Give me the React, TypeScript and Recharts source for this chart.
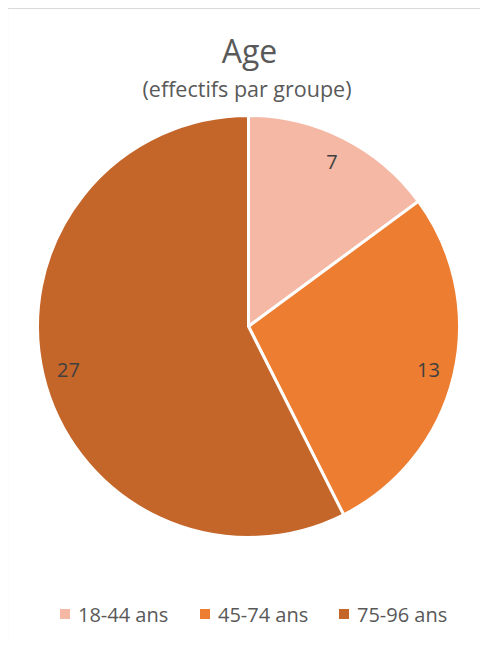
import React from "react";
import { PieChart, Pie, Cell } from "recharts";

const categories = ["18-44 ans", "45-74 ans", "75-96 ans"];
const counts = [7, 13, 27];
const colors = ["#F4B8A4", "#ED7D31", "#C4652A"];

const title = "Age";
const subtitle = "(effectifs par groupe)";

const data = categories.map((name, i) => ({ name, value: counts[i] }));

const FONT = "'Open Sans', sans-serif";
const RADIAN = Math.PI / 180;

const renderLabel = (props: any) => {
  const { cx, cy, midAngle, outerRadius, value } = props;
  const r = outerRadius * 0.877;
  const x = cx + r * Math.cos(-midAngle * RADIAN);
  const y = cy + r * Math.sin(-midAngle * RADIAN);
  return (
    <text
      x={x}
      y={y}
      textAnchor="middle"
      dominantBaseline="central"
      fill="#404040"
      fontFamily={FONT}
      fontSize={20}
    >
      {value}
    </text>
  );
};

export default function App() {
  const legendX = [60, 200, 339];
  return (
    <div style={{ position: "relative", width: 488, height: 650, margin: -8, background: "#fff" }}>
      <div style={{ position: "absolute", left: 8, top: 9, width: 480, height: 641 }}>
        <PieChart width={480} height={641} margin={{ top: 0, right: 0, bottom: 0, left: 0 }}>
          <Pie
            data={data}
            dataKey="value"
            nameKey="name"
            cx={240.5}
            cy={317.5}
            outerRadius={211}
            startAngle={90}
            endAngle={-270}
            stroke="#ffffff"
            strokeWidth={3}
            label={renderLabel}
            labelLine={false}
            isAnimationActive={false}
          >
            {data.map((d, i) => (
              <Cell key={d.name} fill={colors[i]} />
            ))}
          </Pie>
        </PieChart>
      </div>
      <svg
        width={488}
        height={650}
        style={{ position: "absolute", left: 0, top: 0, pointerEvents: "none" }}
      >
        <line x1={7.5} y1={8.5} x2={488} y2={8.5} stroke="#d9d9d9" strokeWidth={1.2} />
        <line x1={7.5} y1={8.5} x2={7.5} y2={650} stroke="#d9d9d9" strokeWidth={1.2} />
        <text x={249.5} y={63.3} textAnchor="middle" fill="#595959" fontFamily={FONT} fontSize={32}>
          {title}
        </text>
        <text x={247} y={96.7} textAnchor="middle" fill="#595959" fontFamily={FONT} fontSize={21.5}>
          {subtitle}
        </text>
        {categories.map((c, i) => (
          <g key={c}>
            <rect x={legendX[i]} y={609} width={10} height={10} fill={colors[i]} />
            <text x={legendX[i] + 18} y={621.7} fill="#595959" fontFamily={FONT} fontSize={20}>
              {c}
            </text>
          </g>
        ))}
      </svg>
    </div>
  );
}
